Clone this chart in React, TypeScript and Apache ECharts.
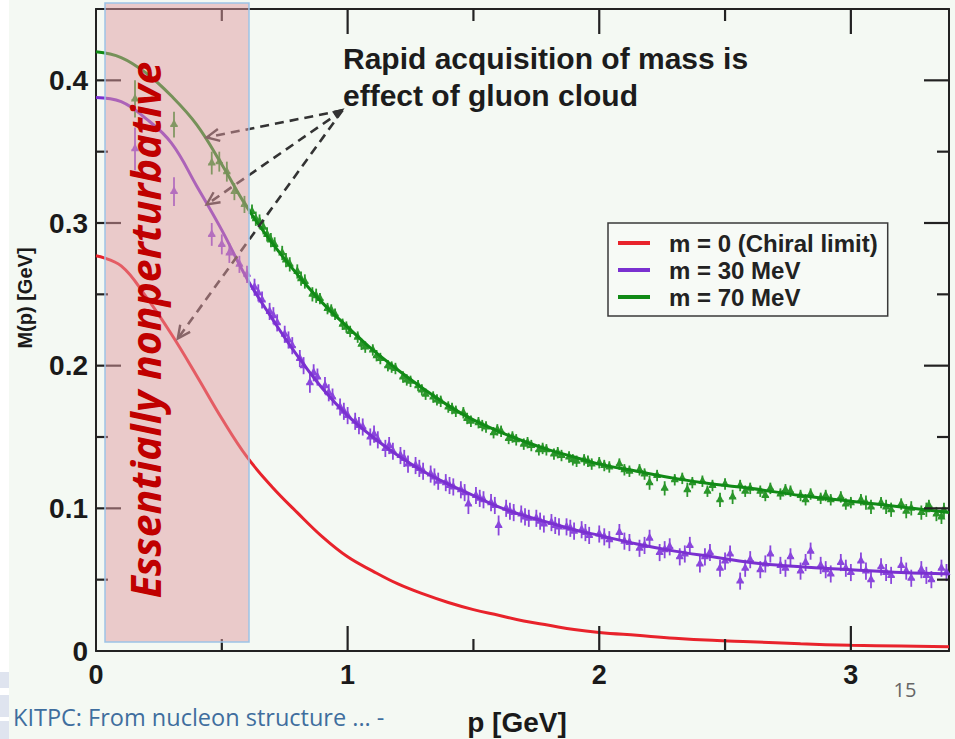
import React, { useEffect, useRef } from "react";
import * as echarts from "echarts";

// ---- data ----
// ticks: [value, length in px]
const xTicks = [[0.5, 12], [1, 25], [1.5, 12], [2, 25], [2.5, 12], [3, 25]];
const yTicks = [[0.05, 12], [0.1, 25], [0.15, 12], [0.2, 25], [0.25, 12], [0.3, 25], [0.35, 12], [0.4, 25]];

const curveP = [0, 0.1, 0.2, 0.3, 0.4, 0.5, 0.6, 0.7, 0.8, 0.9, 1.0, 1.1, 1.2, 1.3, 1.4, 1.5, 1.6, 1.7, 1.8, 1.9, 2.0, 2.15, 2.3, 2.45, 2.6, 2.8, 3.0, 3.2, 3.39];
const chiralM = [0.277, 0.270, 0.248, 0.222, 0.193, 0.163, 0.136, 0.115, 0.097, 0.080, 0.066, 0.056, 0.047, 0.040, 0.034, 0.029, 0.025, 0.021, 0.018, 0.015, 0.013, 0.011, 0.009, 0.0075, 0.0065, 0.005, 0.004, 0.0035, 0.003];
const m30M = [0.388, 0.385, 0.373, 0.356, 0.326, 0.295, 0.261, 0.233, 0.207, 0.184, 0.165, 0.150, 0.137, 0.126, 0.117, 0.109, 0.101, 0.095, 0.090, 0.085, 0.081, 0.075, 0.070, 0.066, 0.062, 0.059, 0.057, 0.055, 0.054];
const m70M = [0.420, 0.416, 0.405, 0.389, 0.369, 0.341, 0.311, 0.286, 0.264, 0.244, 0.227, 0.211, 0.197, 0.184, 0.172, 0.162, 0.154, 0.147, 0.141, 0.136, 0.131, 0.126, 0.121, 0.117, 0.114, 0.109, 0.105, 0.101, 0.097];

// lattice points: [p, M, error]
const lat70 = [
  [0.155, 0.387, 0.013], [0.31, 0.369, 0.009], [0.46, 0.342, 0.008], [0.49, 0.343, 0.007], [0.52, 0.336, 0.007],
  [0.55, 0.322, 0.006], [0.59, 0.313, 0.006], [0.62, 0.308, 0.005], [0.65, 0.301, 0.005], [0.68, 0.292, 0.005],
  [0.71, 0.285, 0.005], [0.74, 0.279, 0.005], [0.77, 0.271, 0.005], [0.80, 0.266, 0.005], [0.83, 0.259, 0.005],
  [0.86, 0.250, 0.005], [0.89, 0.247, 0.004], [0.92, 0.240, 0.004], [0.95, 0.236, 0.004], [0.98, 0.229, 0.004],
  [1.01, 0.224, 0.004], [1.04, 0.220, 0.004], [1.07, 0.213, 0.004], [1.10, 0.211, 0.004], [1.13, 0.205, 0.004],
  [1.16, 0.200, 0.004], [1.19, 0.198, 0.004], [1.22, 0.192, 0.004], [1.25, 0.189, 0.004], [1.28, 0.186, 0.004],
  [1.31, 0.180, 0.004], [1.34, 0.178, 0.004], [1.37, 0.175, 0.004], [1.40, 0.171, 0.004], [1.43, 0.168, 0.004],
  [1.46, 0.167, 0.004], [1.49, 0.161, 0.004], [1.52, 0.160, 0.004], [1.55, 0.157, 0.004], [1.58, 0.153, 0.004],
  [1.61, 0.154, 0.004], [1.64, 0.149, 0.004], [1.67, 0.148, 0.004], [1.70, 0.145, 0.004], [1.73, 0.144, 0.004],
  [1.76, 0.141, 0.004], [1.79, 0.141, 0.004], [1.82, 0.138, 0.004], [1.85, 0.137, 0.004], [1.88, 0.136, 0.004],
  [1.91, 0.133, 0.004], [1.94, 0.134, 0.004], [1.97, 0.131, 0.004], [2.00, 0.132, 0.004], [2.04, 0.129, 0.004],
  [2.08, 0.131, 0.004], [2.12, 0.126, 0.004], [2.16, 0.127, 0.004], [2.20, 0.118, 0.005], [2.23, 0.123, 0.004],
  [2.26, 0.114, 0.005], [2.30, 0.120, 0.004], [2.33, 0.121, 0.004], [2.37, 0.118, 0.004], [2.41, 0.119, 0.004],
  [2.45, 0.116, 0.004], [2.48, 0.106, 0.005], [2.50, 0.117, 0.004], [2.53, 0.108, 0.005], [2.56, 0.116, 0.004],
  [2.60, 0.114, 0.004], [2.64, 0.112, 0.004], [2.68, 0.114, 0.004], [2.72, 0.110, 0.004], [2.76, 0.112, 0.004],
  [2.80, 0.109, 0.004], [2.84, 0.110, 0.004], [2.88, 0.107, 0.004], [2.92, 0.106, 0.004], [2.96, 0.108, 0.004],
  [3.00, 0.104, 0.004], [3.04, 0.106, 0.004], [3.08, 0.101, 0.005], [3.12, 0.104, 0.004], [3.16, 0.099, 0.005],
  [3.20, 0.103, 0.004], [3.24, 0.100, 0.005], [3.28, 0.097, 0.005], [3.31, 0.102, 0.004], [3.34, 0.096, 0.005],
  [3.37, 0.099, 0.005],
];
const lat70b = [
  [0.635, 0.303, 0.005], [0.665, 0.297, 0.005], [0.695, 0.288, 0.005], [0.755, 0.274, 0.005], [0.815, 0.261, 0.005],
  [0.875, 0.249, 0.005], [0.935, 0.239, 0.004], [0.995, 0.227, 0.004], [1.055, 0.215, 0.004], [1.115, 0.207, 0.004],
  [1.175, 0.199, 0.004], [1.235, 0.190, 0.004], [1.295, 0.183, 0.004], [1.355, 0.176, 0.004], [1.415, 0.170, 0.004],
  [1.475, 0.163, 0.004], [1.535, 0.158, 0.004], [1.595, 0.155, 0.004], [1.655, 0.150, 0.004], [1.715, 0.146, 0.004],
  [1.775, 0.142, 0.004], [1.835, 0.139, 0.004], [1.895, 0.134, 0.004], [1.955, 0.133, 0.004], [2.02, 0.130, 0.004],
  [2.10, 0.127, 0.004], [2.18, 0.124, 0.004], [2.35, 0.113, 0.005], [2.43, 0.112, 0.004], [2.58, 0.112, 0.004],
  [2.66, 0.109, 0.004], [2.74, 0.113, 0.004], [2.82, 0.106, 0.004], [2.90, 0.109, 0.004], [2.98, 0.103, 0.004],
  [3.06, 0.104, 0.005], [3.14, 0.101, 0.005], [3.22, 0.098, 0.005], [3.30, 0.099, 0.005], [3.36, 0.094, 0.005],
];
const lat30 = [
  [0.155, 0.352, 0.015], [0.31, 0.322, 0.010], [0.46, 0.292, 0.008], [0.50, 0.285, 0.007], [0.53, 0.279, 0.007],
  [0.57, 0.271, 0.006], [0.60, 0.264, 0.006], [0.63, 0.255, 0.006], [0.66, 0.246, 0.006], [0.69, 0.238, 0.006],
  [0.72, 0.230, 0.006], [0.75, 0.222, 0.006], [0.78, 0.214, 0.006], [0.81, 0.205, 0.006], [0.85, 0.188, 0.007],
  [0.88, 0.192, 0.006], [0.91, 0.186, 0.006], [0.94, 0.178, 0.006], [0.97, 0.171, 0.006], [1.00, 0.165, 0.006],
  [1.03, 0.161, 0.006], [1.06, 0.157, 0.006], [1.09, 0.150, 0.006], [1.12, 0.148, 0.006], [1.15, 0.142, 0.006],
  [1.18, 0.140, 0.006], [1.21, 0.137, 0.006], [1.24, 0.131, 0.006], [1.27, 0.130, 0.006], [1.30, 0.126, 0.006],
  [1.33, 0.124, 0.006], [1.36, 0.119, 0.006], [1.39, 0.118, 0.006], [1.42, 0.115, 0.006], [1.45, 0.113, 0.006],
  [1.48, 0.103, 0.007], [1.51, 0.109, 0.006], [1.54, 0.106, 0.006], [1.57, 0.104, 0.006], [1.60, 0.088, 0.007],
  [1.63, 0.100, 0.006], [1.66, 0.097, 0.006], [1.69, 0.096, 0.006], [1.72, 0.093, 0.006], [1.75, 0.093, 0.006],
  [1.78, 0.089, 0.006], [1.81, 0.090, 0.006], [1.84, 0.087, 0.006], [1.87, 0.087, 0.006], [1.90, 0.084, 0.006],
  [1.93, 0.085, 0.006], [1.96, 0.081, 0.006], [2.00, 0.082, 0.006], [2.04, 0.078, 0.006], [2.08, 0.083, 0.006],
  [2.12, 0.076, 0.006], [2.16, 0.072, 0.006], [2.20, 0.079, 0.006], [2.24, 0.069, 0.006], [2.28, 0.073, 0.006],
  [2.32, 0.066, 0.006], [2.36, 0.074, 0.006], [2.40, 0.061, 0.006], [2.44, 0.069, 0.006], [2.48, 0.058, 0.006],
  [2.52, 0.068, 0.006], [2.56, 0.049, 0.006], [2.60, 0.064, 0.006], [2.64, 0.057, 0.006], [2.68, 0.068, 0.006],
  [2.72, 0.060, 0.006], [2.76, 0.066, 0.006], [2.80, 0.056, 0.006], [2.84, 0.070, 0.006], [2.88, 0.060, 0.006],
  [2.92, 0.054, 0.006], [2.96, 0.062, 0.006], [3.00, 0.055, 0.006], [3.04, 0.063, 0.006], [3.08, 0.050, 0.006],
  [3.12, 0.059, 0.006], [3.16, 0.053, 0.006], [3.20, 0.060, 0.006], [3.24, 0.051, 0.006], [3.28, 0.057, 0.006],
  [3.32, 0.050, 0.006], [3.36, 0.058, 0.006],
];
const lat30b = [
  [0.645, 0.251, 0.006], [0.705, 0.235, 0.006], [0.765, 0.218, 0.006], [0.825, 0.200, 0.006], [0.865, 0.195, 0.006],
  [0.925, 0.181, 0.006], [0.985, 0.168, 0.006], [1.045, 0.158, 0.006], [1.105, 0.152, 0.006], [1.165, 0.144, 0.006],
  [1.225, 0.135, 0.006], [1.285, 0.128, 0.006], [1.345, 0.122, 0.006], [1.405, 0.116, 0.006], [1.465, 0.111, 0.006],
  [1.525, 0.107, 0.006], [1.585, 0.102, 0.006], [1.645, 0.098, 0.006], [1.705, 0.094, 0.006], [1.765, 0.091, 0.006],
  [1.825, 0.088, 0.006], [1.885, 0.086, 0.006], [1.945, 0.083, 0.006], [2.02, 0.080, 0.006], [2.10, 0.077, 0.006],
  [2.18, 0.074, 0.006], [2.26, 0.071, 0.006], [2.34, 0.068, 0.006], [2.42, 0.066, 0.006], [2.50, 0.063, 0.006],
  [2.58, 0.058, 0.006], [2.66, 0.061, 0.006], [2.74, 0.058, 0.006], [2.82, 0.062, 0.006], [2.90, 0.057, 0.006],
  [2.98, 0.058, 0.006], [3.06, 0.056, 0.006], [3.14, 0.055, 0.006], [3.22, 0.056, 0.006], [3.30, 0.053, 0.006],
  [3.38, 0.055, 0.006],
];

const seriesNames = ["m = 0 (Chiral limit)", "m = 30 MeV", "m = 70 MeV"];
const seriesColors = ["#e8232b", "#7a30d0", "#118a16"];
const pointColors = ["", "#8a46dc", "#2a962a"];

// annotation anchors, in data coordinates [p, M]
const arrowFrom = [0.98, 0.379];
const arrowTargets = [
  [0.44, 0.360],
  [0.44, 0.313],
  [0.325, 0.219],
];

const FONT = "Liberation Sans, Arial, sans-serif";
const XMAX = 3.39;
const YMAX = 0.45;
const TICK_COLOR = "#222222";

function pair(xs: number[], ys: number[]) {
  return xs.map((x, i) => [x, ys[i]]);
}

function errSeries(data: number[][], color: string) {
  return {
    type: "custom",
    z: 2,
    silent: true,
    encode: { x: 0, y: 1 },
    data,
    renderItem: (_params: any, api: any) => {
      const p = api.value(0);
      const m = api.value(1);
      const e = api.value(2);
      const c = api.coord([p, m]);
      const t = api.coord([p, m + e]);
      const b = api.coord([p, m - e]);
      return {
        type: "group",
        children: [
          { type: "line", shape: { x1: c[0], y1: t[1], x2: c[0], y2: b[1] }, style: { stroke: color, lineWidth: 1.8 } },
          { type: "line", shape: { x1: c[0] - 3.5, y1: c[1] + 1, x2: c[0] + 3.5, y2: c[1] + 1 }, style: { stroke: color, lineWidth: 1.4 } },
          {
            type: "polygon",
            shape: { points: [[c[0], c[1] - 5.5], [c[0] - 4, c[1] + 2.5], [c[0] + 4, c[1] + 2.5]] },
            style: { fill: color },
          },
        ],
      };
    },
  };
}

// inside ticks on both opposite frame sides, drawn through the axes as thin filled bars
function tickSeries(ticks: number[][], vertical: boolean) {
  return {
    type: "custom",
    z: 6,
    silent: true,
    clip: false,
    encode: { x: 0, y: 1 },
    data: ticks.map(([v, len]) => (vertical ? [v, 0, len] : [0, v, len])),
    renderItem: (_params: any, api: any) => {
      const len = api.value(2);
      const w = 2.2;
      const st = { fill: TICK_COLOR };
      if (vertical) {
        const v = api.value(0);
        const b = api.coord([v, 0]);
        const t = api.coord([v, YMAX]);
        return {
          type: "group",
          children: [
            { type: "rect", shape: { x: b[0] - w / 2, y: b[1] - len, width: w, height: len }, style: st },
            { type: "rect", shape: { x: t[0] - w / 2, y: t[1], width: w, height: len }, style: st },
          ],
        };
      }
      const v = api.value(1);
      const l = api.coord([0, v]);
      const r = api.coord([XMAX, v]);
      return {
        type: "group",
        children: [
          { type: "rect", shape: { x: l[0], y: l[1] - w / 2, width: len, height: w }, style: st },
          { type: "rect", shape: { x: r[0] - len, y: r[1] - w / 2, width: len, height: w }, style: st },
        ],
      };
    },
  };
}

function chevron(tx: number, ty: number, fx: number, fy: number, len: number, ang: number) {
  const dx = fx - tx, dy = fy - ty;
  const L = Math.hypot(dx, dy);
  const ux = dx / L, uy = dy / L;
  const rot = (a: number) => [tx + len * (ux * Math.cos(a) - uy * Math.sin(a)), ty + len * (ux * Math.sin(a) + uy * Math.cos(a))];
  return [rot(ang), [tx, ty], rot(-ang)];
}

export default function App() {
  const ref = useRef<HTMLDivElement>(null);
  useEffect(() => {
    if (!ref.current) return;
    const chart = echarts.init(ref.current, undefined, { renderer: "svg" });
    const axisLine = { show: true, onZero: false, lineStyle: { color: TICK_COLOR, width: 2 } };
    const noTick = { show: false };
    const xBase = { type: "value", min: 0, max: XMAX, interval: 1, splitLine: { show: false }, minorTick: { show: false }, axisLine, axisTick: noTick };
    const yBase = { type: "value", min: 0, max: YMAX, interval: 0.1, splitLine: { show: false }, minorTick: { show: false }, axisLine, axisTick: noTick };
    const hidden = { show: false };

    chart.setOption({
      animation: false,
      backgroundColor: "#f4f9f3",
      grid: { left: 96, top: 9, right: 6, bottom: 88, containLabel: false },
      legend: {
        data: seriesNames,
        orient: "vertical",
        left: 608,
        top: 223,
        backgroundColor: "#f7faf6",
        borderColor: "#3a3a3a",
        borderWidth: 1.5,
        borderRadius: 0,
        padding: [8, 10, 7, 10],
        itemWidth: 32,
        itemHeight: 4,
        itemGap: 3,
        icon: "rect",
        textStyle: { fontFamily: FONT, fontSize: 24, fontWeight: "bold", color: "#222", padding: [0, 0, 0, 14] },
      },
      xAxis: [
        { ...xBase, position: "bottom", axisLabel: { show: true, fontFamily: FONT, fontSize: 27, fontWeight: "bold", color: "#1a1a1a", margin: 10, showMaxLabel: false } },
        { ...xBase, position: "top", axisLabel: hidden },
      ],
      yAxis: [
        {
          ...yBase,
          position: "left",
          axisLabel: {
            show: true, fontFamily: FONT, fontSize: 28, fontWeight: "bold", color: "#1a1a1a", margin: 8, showMaxLabel: false,
            formatter: (v: number) => (v === 0 ? "0" : v.toFixed(1)),
          },
        },
        { ...yBase, position: "right", axisLabel: hidden },
      ],
      series: [
        tickSeries(xTicks, true),
        tickSeries(yTicks, false),
        errSeries(lat30.concat(lat30b), pointColors[1]),
        errSeries(lat70.concat(lat70b), pointColors[2]),
        ...[chiralM, m30M, m70M].map((ys, i) => ({
          type: "line",
          name: seriesNames[i],
          data: pair(curveP, ys),
          smooth: 0.4,
          showSymbol: false,
          symbol: "none",
          z: 3,
          color: seriesColors[i],
          lineStyle: { color: seriesColors[i], width: 3 },
        })),
      ],
    });

    const px = (v: number[]) => chart.convertToPixel({ gridIndex: 0 }, v) as number[];

    // annotation arrows positioned through the axes
    const from = px(arrowFrom);
    const arrows: any[] = [];
    arrowTargets.forEach((t) => {
      const p = px(t);
      arrows.push({
        type: "line",
        z: 20,
        shape: { x1: from[0], y1: from[1], x2: p[0], y2: p[1] },
        style: { stroke: "#333", lineWidth: 2.6, lineDash: [9, 6] },
      });
      arrows.push({
        type: "polyline",
        z: 20,
        shape: { points: chevron(p[0], p[1], from[0], from[1], 14, 0.45) },
        style: { stroke: "#333", lineWidth: 2.4, fill: null },
      });
    });
    const t0 = px(arrowTargets[1]);
    const head = chevron(from[0] + 2, from[1] - 2, t0[0], t0[1], 13, 0.35);
    arrows.push({ type: "polygon", z: 20, shape: { points: head }, style: { fill: "#333" } });

    chart.setOption({
      graphic: [
        { type: "rect", z: 0, shape: { x: 0, y: 0, width: 9, height: 739 }, style: { fill: "#ffffff" } },
        { type: "rect", z: 1, shape: { x: 0, y: 672, width: 9, height: 16 }, style: { fill: "#dfe4ef" } },
        { type: "rect", z: 1, shape: { x: 0, y: 695, width: 9, height: 22 }, style: { fill: "#dfe4ef" } },
        { type: "rect", z: 1, shape: { x: 0, y: 721, width: 9, height: 18 }, style: { fill: "#dfe4ef" } },
        ...arrows,
        {
          type: "text", z: 20, x: 343, y: 40,
          style: { text: "Rapid acquisition of mass is\neffect of gluon cloud", fontFamily: FONT, fontSize: 30, fontWeight: "bold", fill: "#1c1c1c", lineHeight: 37 },
        },
        {
          type: "rect", z: 30,
          shape: { x: 105, y: 3, width: 144, height: 639 },
          style: { fill: "rgba(225,153,159,0.49)", stroke: "#9dc3e6", lineWidth: 1.5 },
        },
        {
          type: "text", z: 31, x: 145, y: 330, rotation: Math.PI / 2,
          style: {
            text: "Essentially nonperturbative", fontFamily: "Open Sans, sans-serif", fontSize: 41,
            fontStyle: "italic", fontWeight: "bold", fill: "#c00000", textAlign: "center", textVerticalAlign: "middle",
          },
        },
        {
          type: "text", z: 20, x: 25, y: 298, rotation: Math.PI / 2,
          style: { text: "M(p) [GeV]", fontFamily: FONT, fontSize: 20, fontWeight: "bold", fill: "#1a1a1a", textAlign: "center", textVerticalAlign: "middle" },
        },
        {
          type: "text", z: 20, x: 517, y: 722,
          style: { text: "p [GeV]", fontFamily: FONT, fontSize: 28, fontWeight: "bold", fill: "#1a1a1a", textAlign: "center", textVerticalAlign: "middle" },
        },
        {
          type: "text", z: 20, x: 905, y: 689,
          style: { text: "15", fontFamily: "Open Sans, sans-serif", fontSize: 20, fill: "#666", textAlign: "center", textVerticalAlign: "middle" },
        },
        {
          type: "text", z: 20, x: 13, y: 717,
          style: { text: "KITPC: From nucleon structure ... -", fontFamily: "Open Sans, sans-serif", fontSize: 23.5, fill: "#3f6e9e", textAlign: "left", textVerticalAlign: "middle" },
        },
      ],
    });

    return () => chart.dispose();
  }, []);
  return <div ref={ref} style={{ position: "fixed", left: 0, top: 0, width: 955, height: 739 }} />;
}
